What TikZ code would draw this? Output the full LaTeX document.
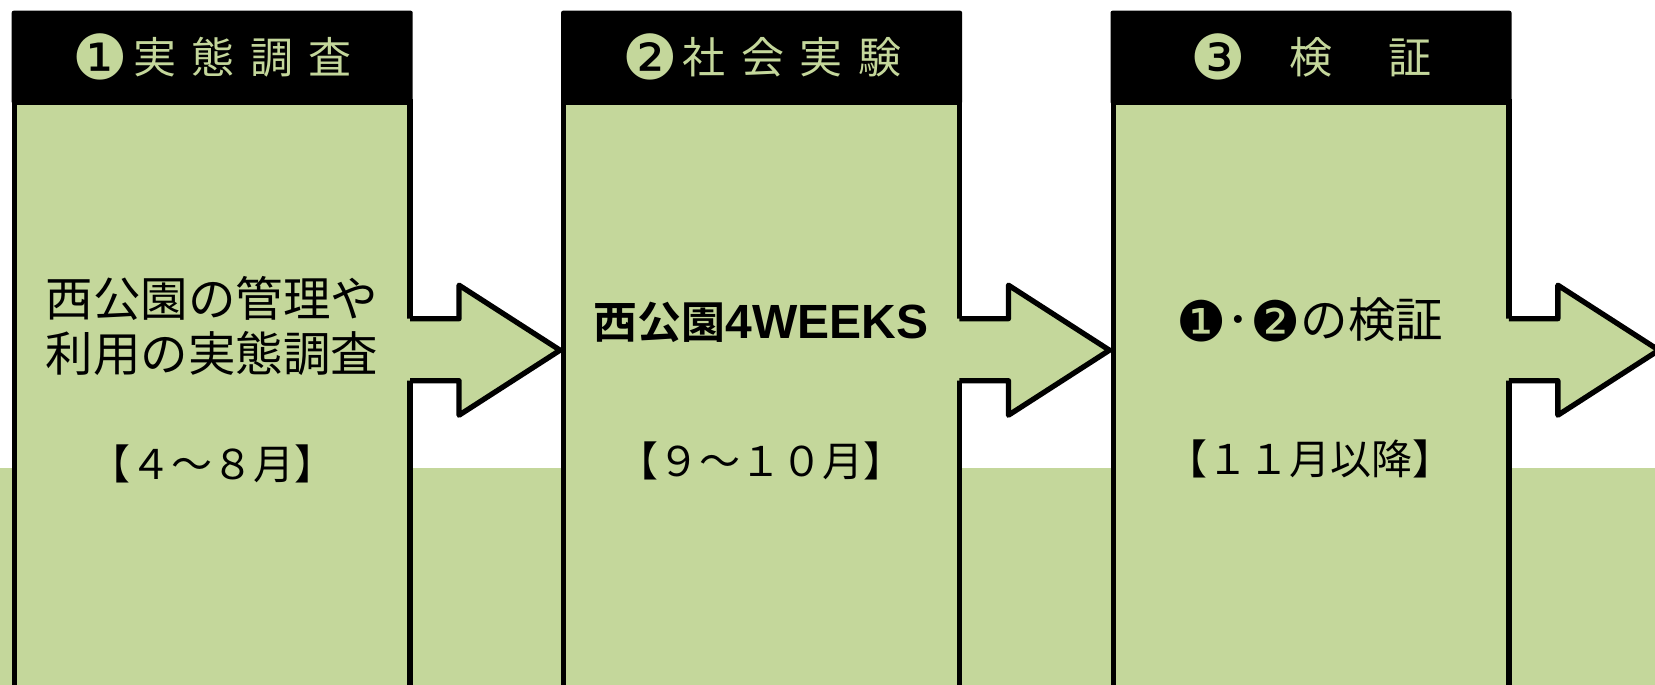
\documentclass[tikz,border=0pt]{standalone}
\usepackage{fontspec}
\usetikzlibrary{positioning,calc}
\newfontfamily\jpfont{Noto Sans CJK JP}[BoldFont={Noto Sans CJK JP Bold}]
\newfontfamily\headfont{Noto Sans CJK JP}[LetterSpace=36]
\newfontfamily\latinbold{Liberation Sans Bold}
\newfontfamily\dingfont{DejaVu Sans}
% circled number: size, drop, glyph
\newcommand{\circnum}[3]{\raisebox{#2}{\dingfont\fontsize{#1}{#1}\selectfont #3}}
\definecolor{paleolive}{HTML}{C4D79B}

\begin{document}
\begin{tikzpicture}[x=1pt,y=-1pt,
  head/.style={fill=black, rounded corners=2pt, minimum width=401pt, minimum height=93.3pt,
    inner sep=0pt, text=paleolive, font=\headfont\fontsize{43pt}{50pt}\selectfont},
  body/.style={draw, fill=paleolive, line width=5.3pt, minimum width=395.7pt,
    minimum height=620pt, inner sep=0pt},
  maintxt/.style={align=center, inner sep=0pt, font=\jpfont\fontsize{47.5pt}{55pt}\selectfont},
  datetxt/.style={inner sep=0pt, font=\jpfont\fontsize{41pt}{50pt}\selectfont},
  arrline/.style={draw, line width=5.3pt, line join=round}]
\useasboundingbox (0,0) rectangle (1655,685);
\clip (0,0) rectangle (1655,685);
\fill[paleolive] (0,468) rectangle (1655,700);

% headers and boxes
\node[head] (h1) at (212.2,57.35) {\circnum{62pt}{-6pt}{❶}\hspace{5pt}実態調査\hspace{8pt}};
\node[head, right=148pt of h1] (h2) {\circnum{62pt}{-6pt}{❷}\hspace{5pt}社会実験\hspace{8pt}};
\node[head, right=148pt of h2] (h3) {\circnum{62pt}{-6pt}{❸}\hspace{44pt}検\hspace{56pt}証\hspace{14pt}};
\foreach \n in {1,2,3}
	\node[body, below=-5pt of h\n] (b\n) {};

% arrows
\foreach \n in {1,2,3} {
	\coordinate (s\n) at ($(b\n.east |- h\n.south)+(-2.65,0)$);
	\fill[paleolive] (s\n) ++(-10,214.5) -- ++(59,0) -- ++(0,-33.5) -- ++(101,65)
		-- ++(-101,65) -- ++(0,-34.5) -- ++(-59,0) -- cycle;
	\draw[arrline] (s\n) ++(0,214.5) -- ++(49,0) -- ++(0,-33.5) -- ++(101,65)
		-- ++(-101,65) -- ++(0,-34.5) -- ++(-49,0);
}

% texts
\node[maintxt] (t1) at (212.2,326.2) {西公園の管理や\\利用の実態調査};
\node[datetxt] (d1) at (212.2,464.4) {【４～８月】};
\node[maintxt] (t2) at (761,322) {{\fontsize{44pt}{50pt}\selectfont\bfseries 西公園}{\latinbold\fontsize{48pt}{50pt}\selectfont 4WEEKS}};
\node[datetxt] (d2) at (761,461) {【９～１０月】};
\node[maintxt] (t3) at (1309.8,320) {\circnum{56pt}{-4pt}{❶}･\circnum{56pt}{-4pt}{❷}の検証};
\node[datetxt] (d3) at (1309.8,459) {【１１月以降】};
\end{tikzpicture}
\end{document}
